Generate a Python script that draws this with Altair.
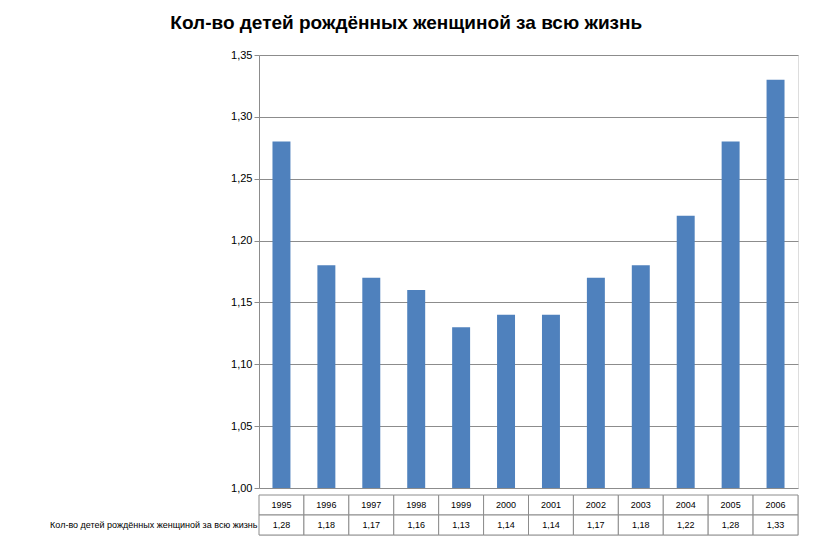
import altair as alt
import pandas as pd

years = ["1995", "1996", "1997", "1998", "1999", "2000", "2001", "2002", "2003", "2004", "2005", "2006"]
values = [1.28, 1.18, 1.17, 1.16, 1.13, 1.14, 1.14, 1.17, 1.18, 1.22, 1.28, 1.33]
series_name = "Кол-во детей рождённых женщиной за всю жизнь"
y_ticks = [1.00, 1.05, 1.10, 1.15, 1.20, 1.25, 1.30, 1.35]

df = pd.DataFrame({"year": years, "value": values})

rows = []
for y, v in zip(years, values):
    rows.append({"year": y, "row": "yr", "text": y})
    rows.append({"year": y, "row": "val", "text": f"{v:.2f}".replace(".", ",")})
tdf = pd.DataFrame(rows)

font = "Liberation Sans"
W = 539
xscale = alt.Scale(paddingInner=0.6, paddingOuter=0.3)

bars = alt.Chart(df).mark_bar(color="#4F81BD").encode(
    x=alt.X("year:O", scale=xscale, axis=None),
    y=alt.Y(
        "value:Q",
        scale=alt.Scale(domain=[1.0, 1.35], zero=False, nice=False),
        axis=alt.Axis(
            values=y_ticks,
            labelExpr="replace(format(datum.value, '.2f'), '.', ',')",
            title=None,
            grid=True,
            gridColor="#8c8c8c",
            domainColor="#8c8c8c",
            tickColor="#8c8c8c",
            labelFontSize=11,
            labelColor="#000",
            minExtent=245,
            maxExtent=245,
        ),
    ),
    y2=alt.datum(1.0),
).properties(width=W, height=433)

row_axis = alt.Axis(
    title=None,
    labelExpr=f"datum.value == 'val' ? '{series_name}' : ''",
    labelFontSize=9,
    labelColor="#000",
    ticks=False,
    domain=False,
    labelLimit=240,
    minExtent=245,
    maxExtent=245,
)
tbase = alt.Chart(tdf).encode(
    x=alt.X("year:O", axis=None, scale=alt.Scale(paddingInner=0, paddingOuter=0)),
    y=alt.Y("row:N", sort=["yr", "val"], axis=row_axis,
            scale=alt.Scale(paddingInner=0, paddingOuter=0)),
)
cells = tbase.mark_rect(fill="white", stroke="#8c8c8c", strokeWidth=1)
texts = tbase.mark_text(fontSize=9, color="#000").encode(text="text:N")
table = (cells + texts).properties(width=W, height=40)

chart = alt.vconcat(bars, table, spacing=0).properties(
    title=alt.TitleParams(
        "Кол-во детей рождённых женщиной за всю жизнь",
        fontSize=19, font=font, fontWeight="bold", anchor="middle", offset=16,
    )
).configure_view(stroke=None).configure(font=font)

chart.save("out.html", embed_options={"renderer": "svg", "actions": False})
